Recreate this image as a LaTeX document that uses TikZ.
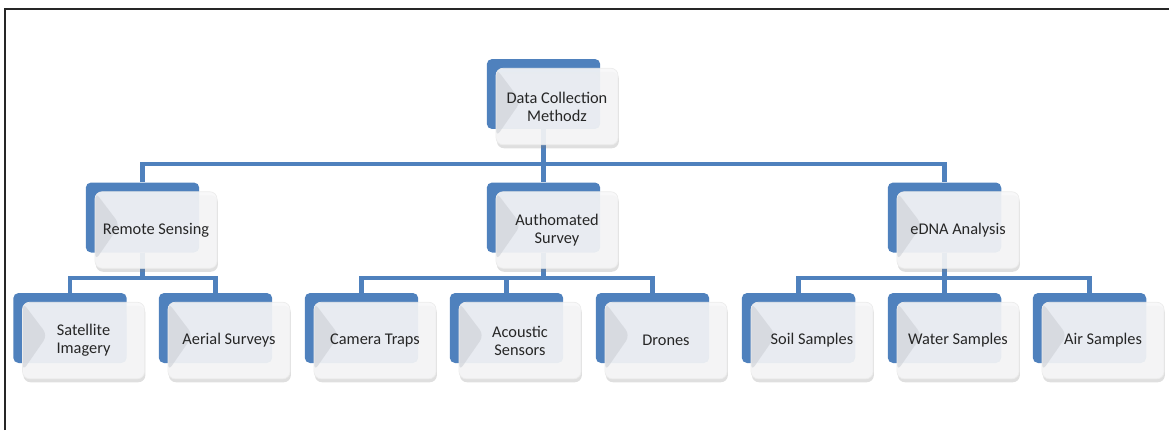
\documentclass[tikz,border=0pt]{standalone}
\usepackage{fontspec}
\setmainfont{Carlito}
\usepackage{tikz}
\usetikzlibrary{shadows}

\definecolor{boxblue}{HTML}{4F81BD}
\definecolor{cardedge}{HTML}{F7F7F8}
\definecolor{cardface}{HTML}{E9ECF2}
\definecolor{cardbevel}{HTML}{CDD0D6}
\definecolor{txtgray}{HTML}{262626}

\tikzset{
  back/.style={fill=boxblue, rounded corners=3pt, minimum width=2.27cm, minimum height=1.4cm, inner sep=0pt},
  card/.style={fill=cardedge, fill opacity=0.9, text opacity=1, draw=gray!15, rounded corners=4pt, minimum width=2.44cm, minimum height=1.53cm, inner sep=1pt,
    align=center, text=txtgray, font=\fontsize{9.3}{10.2}\selectfont,
    drop shadow={opacity=0.25, shadow xshift=0.5pt, shadow yshift=-2pt},
    path picture={
      \fill[cardface, fill opacity=0.85] ([shift={(3pt,-3pt)}]path picture bounding box.north west) rectangle ([shift={(-10.5pt,9.5pt)}]path picture bounding box.south east);
      \fill[cardbevel, fill opacity=0.6] (path picture bounding box.north west) -- ([shift={(0.5cm,-0.66cm)}]path picture bounding box.north west) -- ([yshift=0.15cm]path picture bounding box.south west) -- cycle;
    }},
  link/.style={draw=boxblue, line width=2.3pt}
}

\begin{document}
\begin{tikzpicture}[x=0.02cm, y=-0.02cm]
\useasboundingbox (0,0) rectangle (1169,430);
\draw[line width=1pt, black!85] (5,430) -- (5,9) -- (1169,9);

\node[back] (root) at (543.5,94) {};
\node[back] (remote) at (142.5,217.5) {};
\node[back] (survey) at (543.5,217.5) {};
\node[back] (edna) at (944.5,217.5) {};
\node[back] (sat) at (70,328) {};
\node[back] (aerial) at (215.5,328) {};
\node[back] (cam) at (361.5,328) {};
\node[back] (acou) at (506.5,328) {};
\node[back] (drone) at (652.5,328) {};
\node[back] (soil) at (798.5,328) {};
\node[back] (water) at (944.5,328) {};
\node[back] (air) at (1089.5,328) {};

\draw[link] (root.south) -- ++(0,35) -| (remote.north);
\draw[link] (root.south) -- ++(0,35) -| (survey.north);
\draw[link] (root.south) -- ++(0,35) -| (edna.north);
\draw[link] (remote.south) -- ++(0,25) -| (sat.north);
\draw[link] (remote.south) -- ++(0,25) -| (aerial.north);
\draw[link] (survey.south) -- ++(0,25) -| (cam.north);
\draw[link] (survey.south) -- ++(0,25) -| (acou.north);
\draw[link] (survey.south) -- ++(0,25) -| (drone.north);
\draw[link] (edna.south) -- ++(0,25) -| (soil.north);
\draw[link] (edna.south) -- ++(0,25) -| (water.north);
\draw[link] (edna.south) -- ++(0,25) -| (air.north);

\node[card] (root-f) at ([shift={(13.5,12.5)}]root) {Data Collection\\Methodz};
\node[card] (remote-f) at ([shift={(13.5,12.5)}]remote) {Remote Sensing};
\node[card] (survey-f) at ([shift={(13.5,12.5)}]survey) {Authomated\\Survey};
\node[card] (edna-f) at ([shift={(13.5,12.5)}]edna) {eDNA Analysis};
\node[card] (sat-f) at ([shift={(13.5,12.5)}]sat) {Satellite\\Imagery};
\node[card] (aerial-f) at ([shift={(13.5,12.5)}]aerial) {Aerial Surveys};
\node[card] (cam-f) at ([shift={(13.5,12.5)}]cam) {Camera Traps};
\node[card] (acou-f) at ([shift={(13.5,12.5)}]acou) {Acoustic\\Sensors};
\node[card] (drone-f) at ([shift={(13.5,12.5)}]drone) {Drones};
\node[card] (soil-f) at ([shift={(13.5,12.5)}]soil) {Soil Samples};
\node[card] (water-f) at ([shift={(13.5,12.5)}]water) {Water Samples};
\node[card] (air-f) at ([shift={(13.5,12.5)}]air) {Air Samples};
\end{tikzpicture}
\end{document}
